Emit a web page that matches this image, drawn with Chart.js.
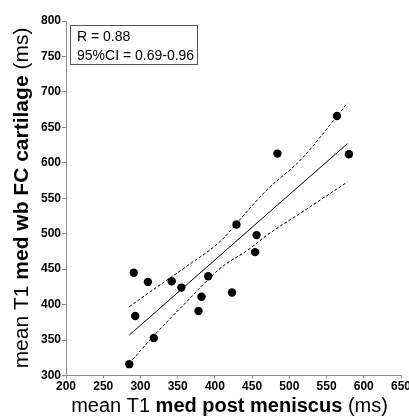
<!DOCTYPE html>
<html>
<head>
<meta charset="utf-8">
<script src="https://cdn.jsdelivr.net/npm/chart.js@4.4.1/dist/chart.umd.min.js"></script>
<style>
  html, body { margin: 0; padding: 0; background: #fff; }
  #wrap { width: 409px; height: 418px; }
</style>
</head>
<body>
<div id="wrap"><canvas id="corrChart" width="409" height="418"></canvas></div>
<script>
// measured points: med post meniscus T1 (x) vs med wb FC cartilage T1 (y)
const xValues = [285, 291, 293, 310, 318, 342, 355, 378, 382, 391, 423, 429, 454, 456, 484, 564, 580];
const yValues = [316, 445, 384, 432, 353, 433, 424, 391, 411, 440, 417, 513, 474, 498, 613, 666, 612];

// regression line end points
const fitX = [285, 578];
const fitY = [357, 627];

// 95% confidence band
const bandX = [285, 317, 362, 407, 447, 470, 515, 578];
const bandUpper = [397, 421, 454, 489, 536, 562, 604, 684];
const bandLower = [317, 355, 404, 451, 479, 498, 529, 573];

const statLines = ['R = 0.88', '95%CI = 0.69-0.96'];

const FONT = '"Liberation Sans", Arial, Helvetica, sans-serif';

const pairs = (xs, ys) => xs.map((x, i) => ({ x: x, y: ys[i] }));

// draw a title made of normal/bold pieces, centred on (0,0) of the current transform
function drawMixed(ctx, parts, size) {
    let total = 0;
    parts.forEach(p => {
        ctx.font = (p.bold ? 'bold ' : '') + size + 'px ' + FONT;
        p.w = ctx.measureText(p.text).width;
        total += p.w;
    });
    let x = -total / 2;
    parts.forEach(p => {
        ctx.font = (p.bold ? 'bold ' : '') + size + 'px ' + FONT;
        ctx.fillText(p.text, x, 0);
        x += p.w;
    });
}

const extras = {
    id: 'extras',
    afterDraw(chart) {
        const ctx = chart.ctx;
        ctx.save();
        ctx.fillStyle = '#000';
        ctx.textBaseline = 'alphabetic';
        ctx.textAlign = 'left';

        // x axis title
        ctx.save();
        ctx.translate(229.5, 412);
        drawMixed(ctx, [
            { text: 'mean T1 ', bold: false },
            { text: 'med post meniscus', bold: true },
            { text: ' (ms)', bold: false }
        ], 20);
        ctx.restore();

        // y axis title
        ctx.save();
        ctx.translate(28, 198);
        ctx.rotate(-Math.PI / 2);
        drawMixed(ctx, [
            { text: 'mean T1 ', bold: false },
            { text: 'med wb FC cartilage', bold: true },
            { text: ' (ms)', bold: false }
        ], 21);
        ctx.restore();

        // stats box
        ctx.strokeStyle = '#555';
        ctx.lineWidth = 1;
        ctx.fillStyle = '#fff';
        ctx.fillRect(70.5, 25.5, 127, 39);
        ctx.strokeRect(70.5, 25.5, 127, 39);
        ctx.fillStyle = '#000';
        ctx.font = '14px ' + FONT;
        ctx.fillText(statLines[0], 77, 41);
        ctx.fillText(statLines[1], 77, 59.5);
        ctx.restore();
    }
};

const axisColor = '#8c8c8c';

new Chart(document.getElementById('corrChart'), {
    type: 'scatter',
    data: {
        datasets: [
            {
                label: 'data',
                data: pairs(xValues, yValues),
                pointRadius: 4.2,
                pointBackgroundColor: '#000',
                pointBorderColor: '#000',
                pointBorderWidth: 0,
                order: 0
            },
            {
                label: 'fit',
                data: pairs(fitX, fitY),
                showLine: true,
                borderColor: '#000',
                borderWidth: 1,
                pointRadius: 0,
                order: 1
            },
            {
                label: 'upper',
                data: pairs(bandX, bandUpper),
                showLine: true,
                borderColor: '#000',
                borderWidth: 1,
                borderDash: [3, 2],
                cubicInterpolationMode: 'monotone',
                pointRadius: 0,
                order: 1
            },
            {
                label: 'lower',
                data: pairs(bandX, bandLower),
                showLine: true,
                borderColor: '#000',
                borderWidth: 1,
                borderDash: [3, 2],
                cubicInterpolationMode: 'monotone',
                pointRadius: 0,
                order: 1
            }
        ]
    },
    options: {
        responsive: false,
        animation: false,
        devicePixelRatio: 1,
        layout: { padding: { top: 21, right: 8, left: 0, bottom: 0 } },
        plugins: { legend: { display: false }, tooltip: { enabled: false } },
        scales: {
            x: {
                type: 'linear',
                min: 200,
                max: 650,
                afterFit: s => { s.height = 42.5; s.paddingLeft = 0; s.paddingRight = 0; },
                grid: { drawOnChartArea: false, drawTicks: true, tickLength: 3, color: axisColor },
                border: { display: true, color: axisColor, width: 1 },
                ticks: {
                    stepSize: 50,
                    padding: 1,
                    color: '#000',
                    font: { family: FONT, size: 12, weight: 'bold' },
                    maxRotation: 0
                }
            },
            y: {
                type: 'linear',
                min: 300,
                max: 800,
                afterFit: s => { s.width = 66; s.paddingTop = 0; s.paddingBottom = 0; },
                grid: { drawOnChartArea: false, drawTicks: true, tickLength: 4, color: axisColor },
                border: { display: true, color: axisColor, width: 1 },
                ticks: {
                    stepSize: 50,
                    padding: 1,
                    color: '#000',
                    font: { family: FONT, size: 12, weight: 'bold' }
                }
            }
        }
    },
    plugins: [extras]
});
</script>
</body>
</html>
